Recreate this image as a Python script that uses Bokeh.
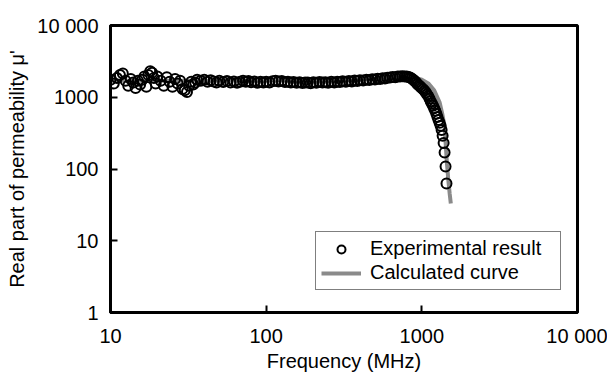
from bokeh.plotting import figure
from bokeh.models import Range1d, FixedTicker, Legend, LegendItem
from bokeh.embed import file_html
from bokeh.resources import INLINE

# Experimental data (frequency in MHz, real permeability)
exp_freq = [10.0, 10.5, 11.0, 11.5, 12.0, 12.5, 13.0, 13.5, 14.0, 14.5, 15.0, 15.5,
            16.0, 16.5, 17.0, 17.5, 18.0, 18.5, 19.0, 19.5, 20, 21, 22, 23, 24, 25,
            26, 27, 28, 29, 30, 31, 32, 33, 34, 35, 36, 38,
            40, 42, 44, 46, 48, 50, 53, 56, 59, 62, 65, 68, 71, 74, 77, 80, 84, 88,
            92, 96, 100, 105, 110, 115, 120, 126, 132, 138, 144, 150, 157, 164, 171,
            178, 185, 193, 201, 210, 220, 230, 240, 250, 262, 274, 286, 298, 310, 325,
            340, 355, 370, 385, 400, 420, 440, 460, 480, 500, 520, 540, 560, 580, 600,
            625, 650, 675, 700, 725, 750, 775, 800,
            820, 840, 860, 880, 900, 920, 940, 960, 980, 1000, 1020,
            1040, 1060, 1080, 1100, 1120, 1140, 1160, 1180, 1200, 1220, 1240, 1260,
            1280, 1300, 1320, 1340, 1360, 1380, 1400, 1420, 1440]
exp_mu = [1750, 1550, 1850, 2050, 2150, 1700, 1450, 1800, 1600, 1350, 1700, 1500,
          1750, 1950, 1400, 2050, 2300, 2200, 1850, 1550, 1950, 1700, 1450, 1900, 1650, 1400,
          1800, 1550, 1700, 1300, 1250, 1180, 1450, 1650, 1500, 1600, 1750, 1700,
          1750, 1640, 1720, 1660, 1600, 1700, 1630, 1680, 1610, 1660, 1590, 1650, 1700, 1640,
          1680, 1620, 1660, 1590, 1640, 1600, 1650, 1610, 1670, 1700, 1660, 1690, 1630, 1650,
          1600, 1630, 1590, 1620, 1580, 1610, 1600, 1570, 1620, 1590, 1630, 1600, 1620, 1590,
          1640, 1610, 1650, 1630, 1670, 1640, 1690, 1660, 1710, 1690, 1730, 1710, 1750, 1740,
          1780, 1770, 1810, 1800, 1840, 1830, 1870, 1880, 1910, 1900, 1940, 1950, 1960, 1950,
          1940,
          1920, 1880, 1830, 1760, 1690, 1610, 1520, 1460, 1400, 1340, 1290,
          1230, 1170, 1100, 1040, 960, 880, 820, 760, 700, 650, 590, 530,
          480, 440, 400, 350, 290, 230, 170, 108, 63]

# Calculated curve
calc_freq = [10, 30, 100, 200, 300, 400, 500, 600, 700, 800, 900, 1000, 1100, 1200,
             1300, 1350, 1400, 1450, 1480, 1510, 1535]
calc_mu = [1700, 1700, 1710, 1720, 1740, 1770, 1810, 1860, 1900, 1920, 1880, 1760, 1560, 1250,
           850, 600, 390, 120, 70, 45, 33]

tick_values = [1, 10, 100, 1000, 10000]
tick_labels = ["1", "10", "100", "1000", "10 000"]

FONT = "Liberation Sans"
FS = "20px"

p = figure(width=607, height=374, x_axis_type="log", y_axis_type="log",
           x_range=Range1d(10, 10000), y_range=Range1d(1, 10000),
           output_backend="svg", toolbar_location=None,
           min_border_left=110, min_border_right=30, min_border_top=25, min_border_bottom=62)

p.background_fill_color = "white"
p.border_fill_color = "white"
p.outline_line_color = "black"
p.outline_line_width = 3
p.xgrid.visible = False
p.ygrid.visible = False

overrides = {v: l for v, l in zip(tick_values, tick_labels)}
for ax in (p.xaxis[0], p.yaxis[0]):
    ax.ticker = FixedTicker(ticks=tick_values, minor_ticks=[])
    ax.major_label_overrides = overrides
    ax.major_tick_in = 7
    ax.major_tick_out = 0
    ax.major_tick_line_width = 2
    ax.major_tick_line_color = "black"
    ax.minor_tick_line_color = None
    ax.axis_line_width = 3
    ax.axis_line_color = "black"
    ax.major_label_text_font = FONT
    ax.major_label_text_font_size = FS
    ax.major_label_text_color = "black"
    ax.axis_label_text_font = FONT
    ax.axis_label_text_font_size = FS
    ax.axis_label_text_font_style = "normal"
    ax.axis_label_text_color = "black"

p.xaxis[0].axis_label = "Frequency (MHz)"
p.xaxis[0].major_label_standoff = 12
p.xaxis[0].axis_label_standoff = 0
p.yaxis[0].axis_label = "Real part of permeability μ'"
p.yaxis[0].major_label_standoff = 12
p.yaxis[0].axis_label_standoff = 6

calc = p.line(calc_freq, calc_mu, line_color="#8a8a8a", line_width=4)
exp = p.scatter(exp_freq, exp_mu, marker="circle", size=10, line_color="black",
                line_width=2, fill_color=None)

legend = Legend(items=[LegendItem(label="Experimental result", renderers=[exp]),
                       LegendItem(label="Calculated curve", renderers=[calc])],
                location=(205, 22))
legend.border_line_color = "black"
legend.border_line_width = 1.5
legend.background_fill_color = "white"
legend.background_fill_alpha = 1
legend.padding = 5
legend.spacing = 1
legend.margin = 0
legend.glyph_width = 40
legend.glyph_height = 20
legend.label_height = 20
legend.label_width = 185
legend.label_standoff = 9
legend.label_text_font = FONT
legend.label_text_font_size = FS
legend.label_text_color = "black"
p.add_layout(legend)

open("out.html", "w").write(file_html(p, INLINE))
